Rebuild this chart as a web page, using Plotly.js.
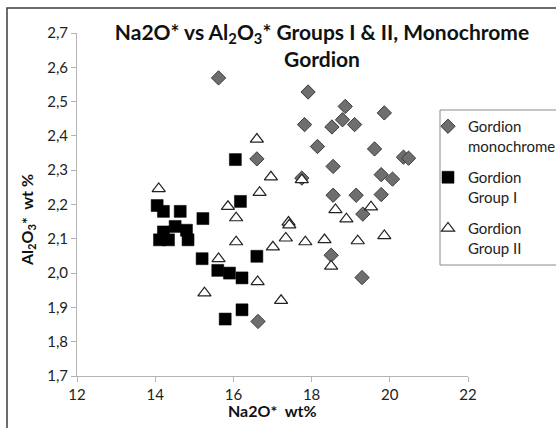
<!DOCTYPE html>
<html>
<head>
<meta charset="utf-8">
<script src="https://cdn.plot.ly/plotly-3.0.1.min.js"></script>
<style>
  html, body { margin: 0; padding: 0; background: #fff; }
  #chart { width: 556px; height: 428px; }
</style>
</head>
<body>
<div id="chart"></div>
<script>
// Gordion monochrome (diamonds)
const monoX = [15.62, 16.60, 16.63, 17.91, 18.86, 19.86, 17.82, 18.52, 18.79, 19.10, 18.15, 19.61,
               20.35, 20.48, 18.55, 17.75, 19.78, 20.07, 18.55, 19.14, 19.78, 19.31, 18.50, 19.29];
const monoY = [2.569, 2.333, 1.859, 2.528, 2.486, 2.467, 2.433, 2.426, 2.447, 2.433, 2.369, 2.362,
               2.338, 2.335, 2.311, 2.277, 2.287, 2.274, 2.227, 2.227, 2.229, 2.172, 2.052, 1.987];

// Gordion Group I (squares)
const g1X = [16.05, 16.18, 14.05, 14.21, 14.64, 15.22, 14.21, 14.51, 14.80, 14.11, 14.34, 14.84,
             16.60, 15.20, 15.60, 15.90, 16.22, 16.22, 15.79];
const g1Y = [2.331, 2.209, 2.197, 2.180, 2.180, 2.159, 2.120, 2.136, 2.125, 2.097, 2.097, 2.097,
             2.049, 2.042, 2.008, 2.000, 1.986, 1.893, 1.866];

// Gordion Group II (triangles)
const g2X = [14.09, 16.60, 16.67, 15.86, 16.07, 16.07, 15.62, 16.62, 15.26, 16.96, 17.75, 18.61,
             19.52, 18.89, 17.41, 17.43, 17.34, 17.01, 17.84, 18.33, 19.18, 19.86, 18.50, 17.22];
const g2Y = [2.246, 2.390, 2.235, 2.194, 2.161, 2.091, 2.042, 1.975, 1.942, 2.280, 2.272, 2.185,
             2.193, 2.158, 2.148, 2.140, 2.102, 2.076, 2.091, 2.097, 2.094, 2.109, 2.020, 1.920];

const seriesNames = ["Gordion<br>monochrome", "Gordion<br>Group I", "Gordion<br>Group II"];
const xTicks = [12, 14, 16, 18, 20, 22];
const yTicks = [1.7, 1.8, 1.9, 2.0, 2.1, 2.2, 2.3, 2.4, 2.5, 2.6, 2.7];

const FONT = "Lato, 'Open Sans', sans-serif";

const traces = [
  {
    x: monoX, y: monoY, name: seriesNames[0], legendgroup: "a", type: "scatter", mode: "markers",
    marker: { symbol: "diamond", size: 11, color: "#6e6e6e", line: { color: "#3a3a3a", width: 1 } }
  },
  {
    x: g1X, y: g1Y, name: seriesNames[1], legendgroup: "b", type: "scatter", mode: "markers",
    marker: { symbol: "square", size: 12, color: "#000000", line: { color: "#000000", width: 0.5 } }
  },
  {
    x: g2X, y: g2Y, name: seriesNames[2], legendgroup: "c", type: "scatter", mode: "markers",
    marker: { symbol: "triangle-up", size: 11.5, color: "#ffffff", line: { color: "#222222", width: 1.2 } }
  }
];

const L = 77, R = 468, T = 33, B = 376;
const pw = R - L, ph = B - T;
const px = v => (v - L) / pw;
const py = v => (B - v) / ph;

const layout = {
  width: 556, height: 428,
  margin: { l: L, r: 556 - R, t: T, b: 428 - B, autoexpand: false },
  paper_bgcolor: "#ffffff", plot_bgcolor: "#ffffff",
  separators: ",.",
  font: { family: FONT, size: 14, color: "#222" },
  showlegend: true,
  title: {
    text: "Na2O* vs Al<sub>2</sub>O<sub>3</sub>* Groups I &amp; II, Monochrome<br>Gordion",
    font: { family: FONT, size: 21, color: "#111", weight: "bold" },
    x: 322 / 556, xref: "container", xanchor: "center",
    y: 1 - 40 / 428, yref: "container", yanchor: "top"
  },
  xaxis: {
    range: [12, 22], tickvals: xTicks, ticktext: xTicks.map(String),
    showgrid: false, zeroline: false, showline: true, linecolor: "#b4b4b4", linewidth: 1,
    ticks: "outside", ticklen: 5, tickcolor: "#b4b4b4",
    tickfont: { family: FONT, size: 15, color: "#222" }, fixedrange: true
  },
  yaxis: {
    range: [1.7, 2.7], tickvals: yTicks, tickformat: ".1f",
    showgrid: false, zeroline: false, showline: true, linecolor: "#b4b4b4", linewidth: 1,
    ticks: "outside", ticklen: 5, tickcolor: "#b4b4b4",
    tickfont: { family: FONT, size: 15, color: "#222" }, fixedrange: true
  },
  legend: {
    x: px(428), y: py(110), xanchor: "left", yanchor: "top",
    bgcolor: "rgba(0,0,0,0)", borderwidth: 0,
    font: { family: FONT, size: 15, color: "#222" },
    valign: "top", tracegroupgap: 9
  },
  annotations: [
    {
      text: "Na2O*  wt%", xref: "paper", yref: "paper", x: 0.5, y: py(411),
      xanchor: "center", yanchor: "middle", showarrow: false,
      font: { family: FONT, size: 16, color: "#111", weight: "bold" }
    },
    {
      text: "Al<sub>2</sub>O<sub>3</sub>*  wt %", xref: "paper", yref: "paper",
      x: px(27), y: py(220), xanchor: "center", yanchor: "middle", textangle: -90,
      showarrow: false, font: { family: FONT, size: 16, color: "#111", weight: "bold" }
    }
  ],
  shapes: [
    { type: "rect", xref: "paper", yref: "paper", x0: px(440), x1: px(620), y0: py(265), y1: py(110),
      line: { color: "#8a8a8a", width: 1 }, fillcolor: "rgba(0,0,0,0)", layer: "below" },
    { type: "rect", xref: "paper", yref: "paper", x0: px(7), x1: px(700), y0: py(600), y1: py(8),
      line: { color: "#3c3c3c", width: 1.5 }, fillcolor: "rgba(0,0,0,0)", layer: "below" }
  ]
};

Plotly.newPlot("chart", traces, layout, { staticPlot: true, displayModeBar: false });
</script>
</body>
</html>
